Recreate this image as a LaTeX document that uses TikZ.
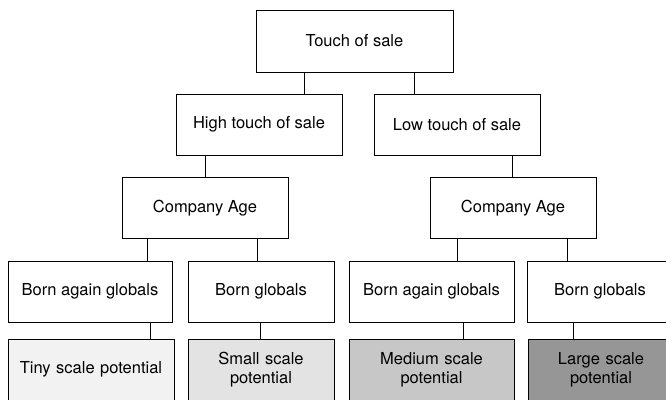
\documentclass[tikz,border=0pt]{standalone}
\usepackage{fontspec}
\setmainfont{TeX Gyre Heros}
\usepackage{tikz}
\usetikzlibrary{arrows,positioning,calc}
\tikzset{
  font={\fontsize{16.5pt}{19}\selectfont}}
\definecolor{tinyfill}{gray}{0.95}
\definecolor{smallfill}{gray}{0.89}
\definecolor{mediumfill}{gray}{0.78}
\definecolor{largefill}{gray}{0.59}

\begin{document}
\begin{tikzpicture}[x=1pt,y=-1pt,
    block_top/.style ={rectangle, draw=black, line width=1pt, fill=white,
      text centered, minimum width=197pt, minimum height=62pt, inner sep=0pt},
    block_center/.style ={rectangle, draw=black, line width=1pt, fill=white,
      text centered, minimum width=166pt, minimum height=61pt, inner sep=0pt},
    block_narrow/.style ={rectangle, draw=black, line width=1pt, fill=white,
      text centered, minimum width=146pt, minimum height=61pt, inner sep=0pt},
    block_scale/.style ={rectangle, draw=black, line width=1pt,
      text width=140pt, align=center, minimum height=61pt, inner sep=0pt},
    paths2/.style={black, draw, line width=1pt}]
    \useasboundingbox (0,0) rectangle (666,399);
    % row 1
    \node[block_top] (b1) at (354.5,41) {Touch of sale};
    % row 2
    \node[block_center] (b2) at (259,124.5) {High touch of sale};
    \node[block_center] (b2-1) at (457,124.5) {Low touch of sale};
    % row 3
    \node[block_center] (b3) at (205,208) {Company Age};
    \node[block_center] (b3-1) at (513,208) {Company Age};
    % row 4
    \node[block_center, minimum width=164pt] (b4) at (90,291.5) {Born again globals};
    \node[block_narrow] (b4-1) at (261,291.5) {Born globals};
    \node[block_center, minimum width=165pt] (b4-2) at (431.5,291.5) {Born again globals};
    \node[block_narrow] (b4-3) at (600,291.5) {Born globals};
    % row 5
    \node[block_scale, fill=tinyfill, text width=160pt, minimum width=166pt] (b5) at (91,369.5) {Tiny scale potential};
    \node[block_scale, fill=smallfill, minimum width=146pt] (b5-1) at (261,369.5) {Small scale\\ potential};
    \node[block_scale, fill=mediumfill, minimum width=165pt] (b5-2) at (431.5,369.5) {Medium scale\\ potential};
    \node[block_scale, fill=largefill, minimum width=146pt] (b5-3) at (601,369.5) {Large scale\\ potential};
    % connecting nodes with paths
    \begin{scope}[every path/.style=paths2]
      \path ([xshift=-50.5pt]b1.south) -- ([xshift=-50.5pt]b1.south |- b2.north);
      \path ([xshift=59.5pt]b1.south) -- ([xshift=59.5pt]b1.south |- b2-1.north);
      \path ([xshift=-54pt]b2.south) -- ([xshift=-54pt]b2.south |- b3.north);
      \path ([xshift=55pt]b2-1.south) -- ([xshift=55pt]b2-1.south |- b3-1.north);
      \path ([xshift=-58pt]b3.south) -- ([xshift=-58pt]b3.south |- b4.north);
      \path ([xshift=52pt]b3.south) -- ([xshift=52pt]b3.south |- b4-1.north);
      \path ([xshift=-55.5pt]b3-1.south) -- ([xshift=-55.5pt]b3-1.south |- b4-2.north);
      \path ([xshift=54pt]b3-1.south) -- ([xshift=54pt]b3-1.south |- b4-3.north);
      \path ([xshift=60pt]b4.south) -- ([xshift=60pt]b4.south |- b5.north);
      \path ([xshift=-1pt]b4-1.south) -- ([xshift=-1pt]b4-1.south |- b5-1.north);
      \path ([xshift=31.5pt]b4-2.south) -- ([xshift=31.5pt]b4-2.south |- b5-2.north);
      \path ([xshift=-27pt]b4-3.south) -- ([xshift=-27pt]b4-3.south |- b5-3.north);
    \end{scope}
\end{tikzpicture}
\end{document}
